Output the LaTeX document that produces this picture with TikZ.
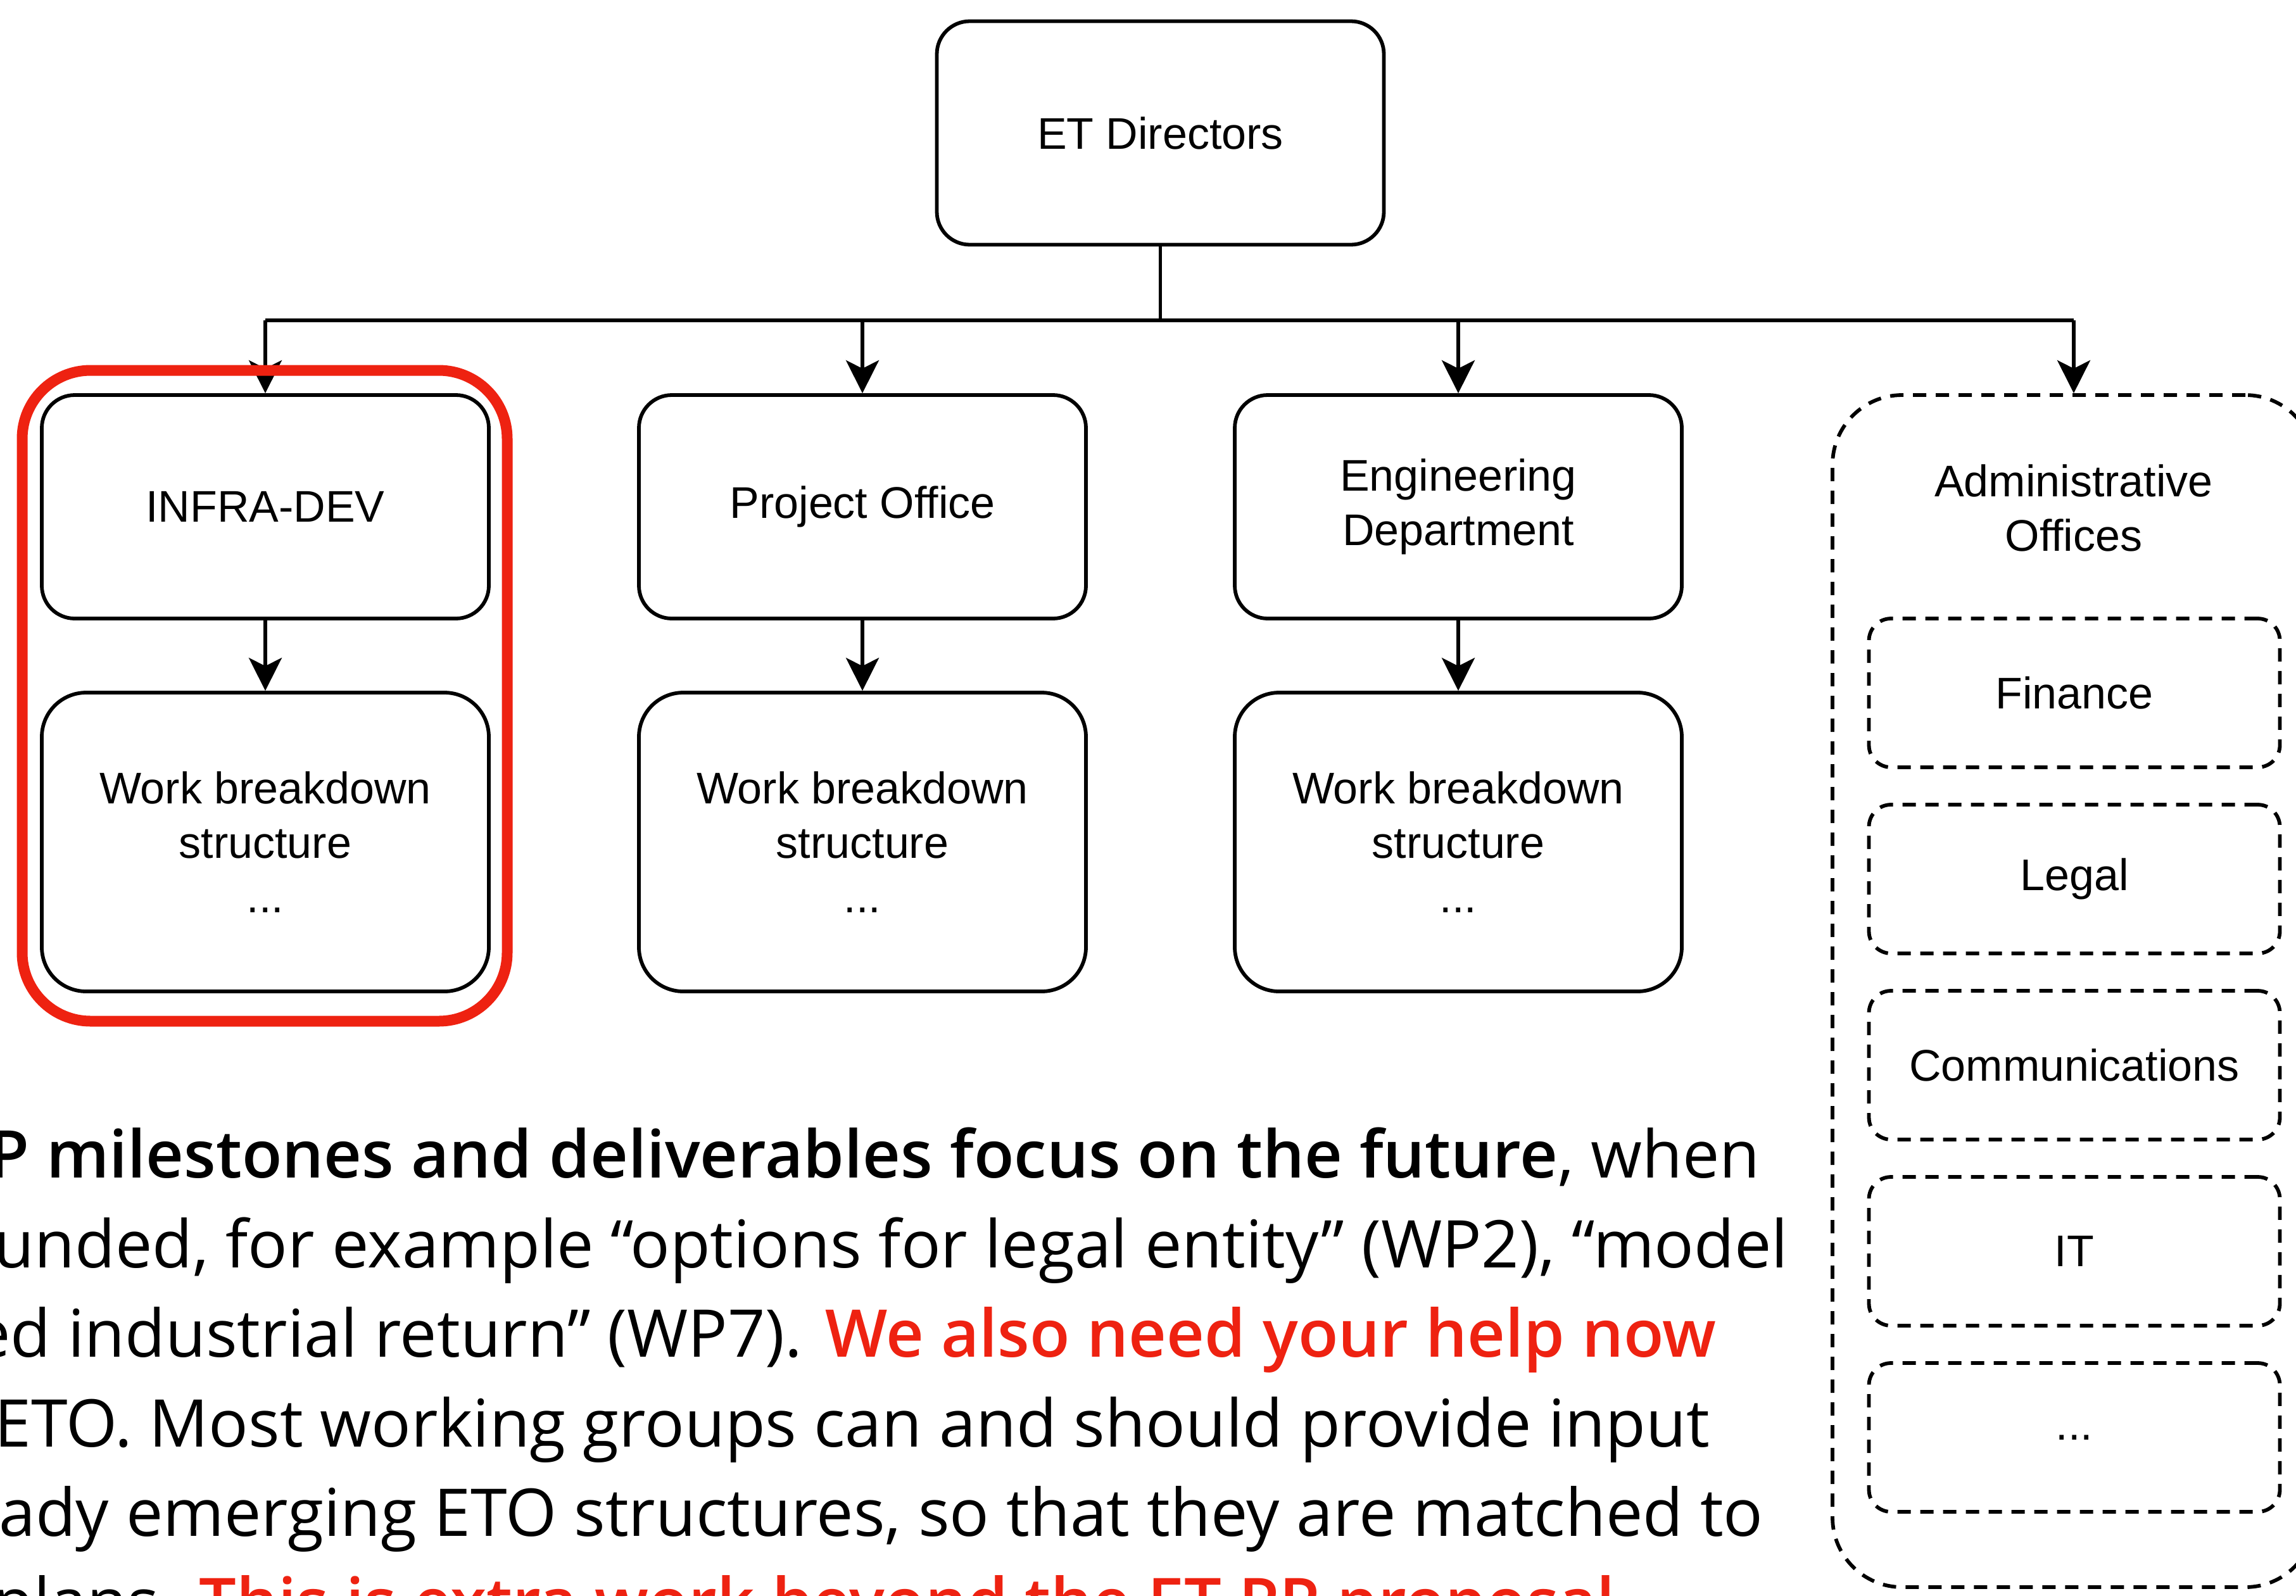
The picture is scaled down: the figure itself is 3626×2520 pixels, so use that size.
\documentclass[tikz,border=0pt]{standalone}
\usepackage{fontspec}
\setmainfont{Liberation Sans}
\IfFontExistsTF{Open Sans Semibold}
  {\newfontfamily\bodyfamily{Open Sans}[BoldFont={Open Sans Semibold}]
   \newcommand\keyphrase[1]{\textbf{#1}}}
  {\newfontfamily\bodyfamily{Open Sans}
   \newcommand\keyphrase[1]{\scalebox{0.958}[1]{\textbf{#1}}}}
\usetikzlibrary{arrows.meta}
\definecolor{alertred}{HTML}{EE2211}
\newcommand\labelsize{\fontsize{70}{86}\selectfont}
\newcommand\bodysize{\bodyfamily\fontsize{104}{141}\selectfont}

\begin{document}
\begin{tikzpicture}[x=1pt,y=-1pt,
  orgbox/.style={draw=black, line width=5.8pt, rounded corners=52pt,
    align=center, font=\labelsize, inner sep=0pt,
    minimum width=706pt, minimum height=353pt},
  wbsbox/.style={orgbox, rounded corners=70pt, minimum height=472pt},
  adminbox/.style={draw=black, line width=5.8pt, rounded corners=110pt,
    dash pattern=on 21pt off 15pt, inner sep=0pt,
    minimum width=762pt, minimum height=1883pt},
  officebox/.style={draw=black, line width=5.8pt, rounded corners=35pt,
    dash pattern=on 21pt off 15pt, align=center, font=\labelsize,
    inner sep=0pt, minimum width=649pt, minimum height=235pt},
  highlight/.style={draw=alertred, line width=17pt, rounded corners=108pt,
    inner sep=0pt, minimum width=766pt, minimum height=1028pt},
  link/.style={draw=black, line width=5.8pt},
  arrowlink/.style={link, -{Stealth[length=52pt, width=52pt, inset=13pt]}},
  bodyline/.style={anchor=base east, inner sep=0pt, font=\bodysize}
]
\useasboundingbox (0,0) rectangle (3626,2520);
\clip (0,0) rectangle (3626,2520);
\fill[white] (0,0) rectangle (3626,2520);

% top of the hierarchy
\node[orgbox] (dir) at (1832.5,210) {ET Directors};

% first level units
\node[orgbox] (infra) at (419,800.5) {INFRA-DEV};
\node[orgbox] (proj) at (1362,800.5) {Project Office};
\node[orgbox] (eng) at (2303,800.5) {Engineering\\Department};

% work breakdown structures below each unit
\node[wbsbox] (wbsA) at (419,1330) {Work breakdown\\structure\\...};
\node[wbsbox] (wbsB) at (1362,1330) {Work breakdown\\structure\\...};
\node[wbsbox] (wbsC) at (2303,1330) {Work breakdown\\structure\\...};

% administrative offices group
\node[adminbox] (admin) at (3275,1565.5) {};
\node[font=\labelsize, align=center, inner sep=0pt] (admintitle) at (3275,802) {Administrative\\Offices};
\node[officebox] (fin) at (3276,1094.5) {Finance};
\node[officebox] (legal) at (3276,1388.5) {Legal};
\node[officebox] (comm) at (3276,1682.5) {Communications};
\node[officebox] (it) at (3276,1976.5) {IT};
\node[officebox] (more) at (3276,2270.5) {...};

% bus from the directors to all units
\coordinate (bus) at (1832.5,506);
\draw[link] (dir.south) -- (dir.south |- bus);
\draw[link] (infra.north |- bus) -- (admin.north |- bus);
\draw[arrowlink] (infra.north |- bus) -- (infra.north);
\draw[arrowlink] (proj.north |- bus) -- (proj.north);
\draw[arrowlink] (eng.north |- bus) -- (eng.north);
\draw[arrowlink] (admin.north |- bus) -- (admin.north);

\draw[arrowlink] (infra) -- (wbsA);
\draw[arrowlink] (proj) -- (wbsB);
\draw[arrowlink] (eng) -- (wbsC);

% highlighted column
\node[highlight] (focus) at (418,1099) {};

% explanatory paragraph
\node[bodyline] (l1) at (2780,1860) {\keyphrase{P milestones and deliverables focus on the future}, when};
\node[bodyline] (l2) at (2824,2002) {unded, for example “options for legal entity” (WP2), “model};
\node[bodyline] (l3) at (2711,2143) {ed industrial return” (WP7). \textcolor{alertred}{\keyphrase{We also need your help now}}};
\node[bodyline] (l4) at (2700,2285) {ETO. Most working groups can and should provide input};
\node[bodyline] (l5) at (2785,2426) {ady emerging ETO structures, so that they are matched to};
\node[bodyline] (l6) at (2551,2567) {plans. \textcolor{alertred}{\keyphrase{This is extra work beyond the ET PP proposal}}};
\end{tikzpicture}
\end{document}
